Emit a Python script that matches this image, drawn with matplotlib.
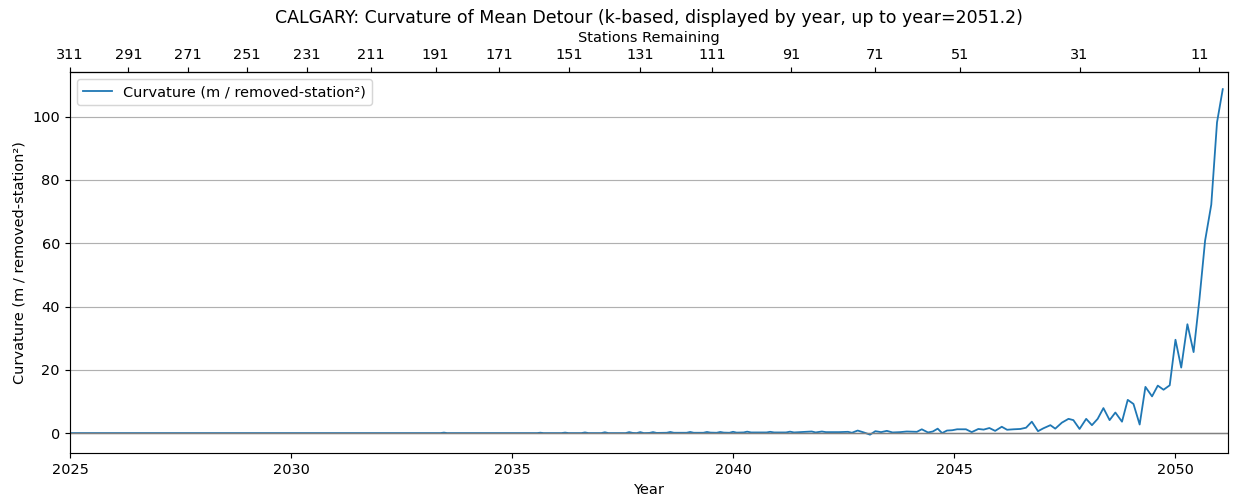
import numpy as np
import matplotlib
matplotlib.use("Agg")
import matplotlib.pyplot as plt

# estacoes restantes (eixo superior) e o ano correspondente
stations_ticks = [311, 291, 271, 251, 231, 211, 191, 171, 151, 131, 111, 91, 71, 51, 31, 11]
tick_years = [2025.00, 2026.32, 2027.66, 2029.00, 2030.35, 2031.81, 2033.27, 2034.71,
              2036.29, 2037.90, 2039.52, 2041.32, 2043.21, 2045.14, 2047.84, 2050.55]

# curvatura
years = [2025.00, 2033.38, 2033.46, 2033.53, 2035.57, 2035.64, 2035.71, 2036.12, 2036.20, 2036.28,
         2036.57, 2036.65, 2036.73, 2037.02, 2037.10, 2037.18, 2037.57, 2037.65, 2037.73, 2037.82,
         2037.90, 2037.98, 2038.11, 2038.19, 2038.27, 2038.50, 2038.58, 2038.66, 2038.95, 2039.03,
         2039.11, 2039.33, 2039.41, 2039.49, 2039.63, 2039.71, 2039.79, 2039.92, 2040.00, 2040.08,
         2040.24, 2040.32, 2040.41, 2040.76, 2040.84, 2040.93, 2041.20, 2041.29, 2041.38, 2041.78,
         2041.87, 2042.01, 2042.10, 2042.40, 2042.60, 2042.69, 2042.82, 2042.96, 2043.10, 2043.22,
         2043.35, 2043.48, 2043.61, 2043.78, 2043.93, 2044.16, 2044.27, 2044.41, 2044.52, 2044.63,
         2044.73, 2044.84, 2044.96, 2045.07, 2045.27, 2045.40, 2045.55, 2045.67, 2045.80, 2045.93,
         2046.08, 2046.20, 2046.35, 2046.50, 2046.63, 2046.76, 2046.90, 2047.02, 2047.18, 2047.29,
         2047.44, 2047.59, 2047.70, 2047.84, 2047.99, 2048.12, 2048.25, 2048.38, 2048.52, 2048.65,
         2048.80, 2048.93, 2049.06, 2049.20, 2049.33, 2049.48, 2049.61, 2049.74, 2049.88, 2050.01,
         2050.14, 2050.28, 2050.42, 2050.55, 2050.68, 2050.82, 2050.95, 2051.08]
curvature = [0.0, 0.0, 0.15, 0.0, 0.0, 0.12, 0.0, 0.0, 0.15, 0.0,
             0.0, 0.2, 0.0, 0.0, 0.25, 0.0, 0.0, 0.3, 0.05, 0.0,
             0.3, 0.0, 0.05, 0.3, 0.05, 0.1, 0.35, 0.1, 0.1, 0.35,
             0.1, 0.1, 0.35, 0.15, 0.1, 0.35, 0.15, 0.1, 0.4, 0.15,
             0.2, 0.45, 0.2, 0.2, 0.4, 0.2, 0.2, 0.45, 0.2, 0.5,
             0.2, 0.5, 0.3, 0.3, 0.4, 0.1, 0.8, 0.2, -0.5, 0.6,
             0.3, 0.7, 0.2, 0.3, 0.5, 0.4, 1.2, 0.2, 0.5, 1.4,
             0.0, 0.8, 0.9, 1.2, 1.2, 0.3, 1.3, 1.1, 1.6, 0.7,
             2.0, 1.05, 1.2, 1.3, 1.7, 3.6, 0.6, 1.5, 2.5, 1.4,
             3.3, 4.5, 4.1, 1.3, 4.5, 2.5, 4.5, 7.9, 4.1, 6.5,
             3.6, 10.5, 9.2, 2.7, 14.6, 11.6, 15.0, 13.7, 15.1, 29.5,
             20.7, 34.4, 25.6, 42.0, 60.8, 72.2, 98.2, 108.7]

year_max = 2051.2

sy = np.array(tick_years)
ss = np.array(stations_ticks, dtype=float)


def year_to_stations(y):
    y = np.asarray(y, dtype=float)
    s = np.interp(y, sy, ss)
    # extrapola nas pontas
    lo = ss[0] + (y - sy[0]) * (ss[1] - ss[0]) / (sy[1] - sy[0])
    hi = ss[-1] + (y - sy[-1]) * (ss[-1] - ss[-2]) / (sy[-1] - sy[-2])
    return np.where(y < sy[0], lo, np.where(y > sy[-1], hi, s))


def stations_to_year(s):
    s = np.asarray(s, dtype=float)
    y = np.interp(s, ss[::-1], sy[::-1])
    lo = sy[0] + (s - ss[0]) * (sy[1] - sy[0]) / (ss[1] - ss[0])
    hi = sy[-1] + (s - ss[-1]) * (sy[-1] - sy[-2]) / (ss[-1] - ss[-2])
    return np.where(s > ss[0], lo, np.where(s < ss[-1], hi, y))


dpi = 104
fig = plt.figure(figsize=(1233 / dpi, 497 / dpi), dpi=dpi)
ax = fig.add_axes([0.0568, 0.0885, 0.9392, 0.7665])

ax.plot(years, curvature, linewidth=1.25, label="Curvature (m / removed-station²)")
ax.axhline(0, color="gray", linewidth=1)
ax.set_xlim(2025, year_max)
ax.set_ylim(-6.3, 114.1)
ax.grid(axis="y")
ax.set_xlabel("Year")
ax.set_ylabel("Curvature (m / removed-station²)")
ax.set_title(f"CALGARY: Curvature of Mean Detour (k-based, displayed by year, up to year={year_max})")
ax.legend(loc="upper left")

top = ax.secondary_xaxis("top", functions=(year_to_stations, stations_to_year))
top.set_xticks(stations_ticks)
top.set_xlabel("Stations Remaining")

fig.savefig("out.png", dpi=dpi)
